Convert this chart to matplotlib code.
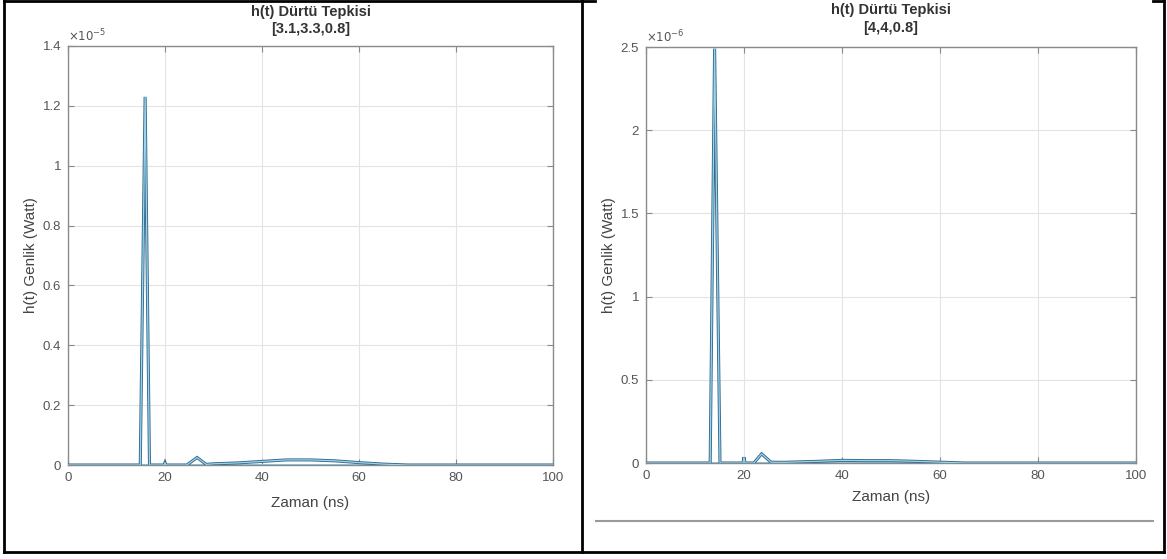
import matplotlib
matplotlib.use("Agg")
import matplotlib.pyplot as plt
from matplotlib.lines import Line2D

plt.rcParams['font.family'] = ['Liberation Sans', 'DejaVu Sans']

# ---- data (left panel, values in units of 1e-5 W) ----
t_left = [0, 14.9, 15.9, 16.8, 19.8, 20.0, 20.2, 24.5, 26.6, 28.5, 30, 35, 40, 45, 50, 55, 60, 65, 70, 100]
h_left = [0, 0, 1.23, 0, 0, 0.008, 0, 0, 0.025, 0.002, 0.004, 0.007, 0.012, 0.017, 0.017, 0.014, 0.008, 0.003, 0, 0]

# ---- data (right panel, values in units of 1e-6 W) ----
t_right = [0, 13.1, 14.0, 15.1, 19.8, 20.0, 20.2, 22.0, 23.6, 25.5, 28, 35, 40, 45, 50, 55, 60, 65, 100]
h_right = [0, 0, 2.49, 0, 0, 0.035, 0, 0, 0.055, 0.005, 0.004, 0.01, 0.016, 0.014, 0.014, 0.01, 0.005, 0, 0]

titles = ["h(t) Dürtü Tepkisi", "h(t) Dürtü Tepkisi"]
subtitles = ["[3.1,3.3,0.8]", "[4,4,0.8]"]
xlabel = "Zaman (ns)"
ylabel = "h(t) Genlik (Watt)"
xticks = [0, 20, 40, 60, 80, 100]
yticks_left = [0, 0.2, 0.4, 0.6, 0.8, 1.0, 1.2, 1.4]
ytick_labels_left = ["0", "0.2", "0.4", "0.6", "0.8", "1", "1.2", "1.4"]
yticks_right = [0, 0.5, 1.0, 1.5, 2.0, 2.5]
ytick_labels_right = ["0", "0.5", "1", "1.5", "2", "2.5"]
exponents = [r"$\times10^{-5}$", r"$\times10^{-6}$"]

W, H = 1167, 559
fig = plt.figure(figsize=(W / 100, H / 100), dpi=100)
fig.patch.set_facecolor("white")

def px(x0, y0, x1, y1):
    return [x0 / W, 1 - y1 / H, (x1 - x0) / W, (y1 - y0) / H]

axL = fig.add_axes(px(68, 46, 553, 465))
axR = fig.add_axes(px(646, 47, 1136, 463))

tick_col = "#555555"
spine_col = "#8a8a8a"

def style(ax, t, h, yt, ytl, ymax, title, sub, expo, t1y, t2y, xpad, ypad):
    ax.plot(t, h, color="#35698a", lw=2.2, solid_joinstyle="miter", zorder=3)
    ax.plot(t, h, color="#9ad4ee", lw=0.9, zorder=4)
    ax.axhline(0, color="#8ccbe6", lw=2.2, zorder=2)
    ax.set_xlim(0, 100)
    ax.set_ylim(0, ymax)
    ax.set_xticks(xticks)
    ax.set_xticklabels([str(v) for v in xticks])
    ax.set_yticks(yt)
    ax.set_yticklabels(ytl)
    ax.grid(True, color="#e3e3e3", lw=0.8)
    ax.set_axisbelow(True)
    ax.tick_params(direction="in", top=True, right=True, length=4,
                   colors=spine_col, labelcolor=tick_col, labelsize=9.5, pad=5)
    for s in ax.spines.values():
        s.set_color(spine_col)
        s.set_linewidth(1.0)
    ax.set_xlabel(xlabel, fontsize=11, color="#444444", labelpad=xpad)
    ax.set_ylabel(ylabel, fontsize=11, color="#444444", labelpad=ypad)
    ax.text(0.5, t1y, title, transform=ax.transAxes, ha="center", va="center",
            fontsize=10.5, fontweight="bold", color="#333333")
    ax.text(0.5, t2y, sub, transform=ax.transAxes, ha="center", va="center",
            fontsize=10.5, fontweight="bold", color="#333333")
    ax.text(0.0, 1.005, expo, transform=ax.transAxes, ha="left", va="bottom",
            fontsize=8.5, color=tick_col)

style(axL, t_left, h_left, yticks_left, ytick_labels_left, 1.4,
      titles[0], subtitles[0], exponents[0], 1.080, 1.040, 9, 3)
style(axR, t_right, h_right, yticks_right, ytick_labels_right, 2.5,
      titles[1], subtitles[1], exponents[1], 1.088, 1.045, 6, 3)

# table borders
def fline(x0, y0, x1, y1, col="black", lw=2.0):
    fig.add_artist(Line2D([x0 / W, x1 / W], [1 - y0 / H, 1 - y1 / H],
                          color=col, lw=lw, transform=fig.transFigure))

fline(4, 1, 595, 1)
fline(1153, 1, 1164, 1)
fline(4, 552, 1164, 552)
fline(4, 1, 4, 552)
fline(1164, 1, 1164, 552)
fline(582, 1, 582, 552)
fline(596, 521, 1153, 521, col="#9a9a9a", lw=1.5)

fig.savefig("out.png", dpi=100, facecolor="white")
